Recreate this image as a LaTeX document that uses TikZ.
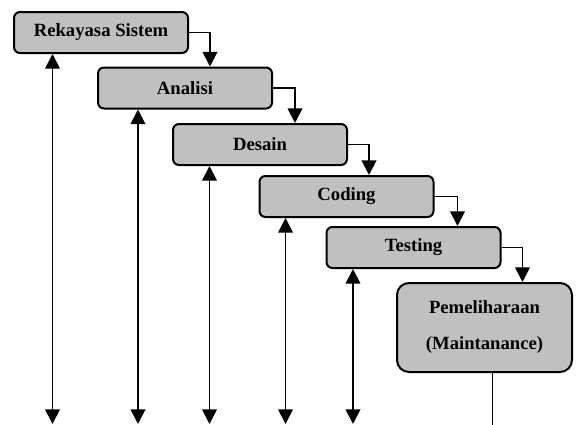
\documentclass[tikz,border=0pt]{standalone}
\usepackage{fontspec}
\setmainfont{Liberation Serif}
\usetikzlibrary{arrows.meta}
\definecolor{boxgray}{RGB}{192,192,192}

\begin{document}
\begin{tikzpicture}[x=0.75pt,y=-0.75pt,
  phase/.style={draw=black,line width=1.5pt,fill=boxgray,rounded corners=4.5pt,
    minimum width=130.5pt,minimum height=30.75pt,inner sep=0pt,
    font=\fontsize{14}{17}\selectfont\bfseries},
  flow/.style={line width=1.4pt,-{Triangle[width=11pt,length=11pt]}},
  both/.style={line width=1.4pt,{Triangle[width=11pt,length=11pt]}-{Triangle[width=11pt,length=11pt]}}]
\useasboundingbox (0,0) rectangle (576,425);
% phases
\node[phase] (rs) at (101,32.5) {Rekayasa Sistem};
\node[phase] (an) at (185,88) {Analisi};
\node[phase] (de) at (260,144.5) {Desain};
\node[phase] (co) at (346.5,196.5) {Coding};
\node[phase] (te) at (413.5,247.5) {Testing};
\node[phase,rounded corners=9pt,minimum width=131.25pt,minimum height=66.75pt,
  align=center,font=\fontsize{14}{27}\selectfont\bfseries] (pm) at (484.5,327.5)
  {Pemeliharaan\\(Maintanance)};
% elbow arrows
\draw[flow] (rs.east) -- ++(21,0) coordinate (k1) -- (k1 |- an.north);
\draw[flow] (an.east) -- ++(22,0) coordinate (k2) -- (k2 |- de.north);
\draw[flow] (de.east) -- ++(21,0) coordinate (k3) -- (k3 |- co.north);
\draw[flow] (co.east) -- ++(23,0) coordinate (k4) -- (k4 |- te.north);
\draw[flow] (te.east) -- ++(21,0) coordinate (k5) -- (k5 |- pm.north);
% feedback arrows
\coordinate (b1) at (52.5,424);
\coordinate (b2) at (138,424);
\coordinate (b3) at (209.5,424);
\coordinate (b4) at (285.5,424);
\coordinate (b5) at (353,424);
\coordinate (b6) at (492.5,425);
\draw[both] (b1) -- (b1 |- rs.south);
\draw[both] (b2) -- (b2 |- an.south);
\draw[both] (b3) -- (b3 |- de.south);
\draw[both] (b4) -- (b4 |- co.south);
\draw[both] (b5) -- (b5 |- te.south);
\draw[line width=1.4pt] (b6) -- (b6 |- pm.south);
\end{tikzpicture}
\end{document}
